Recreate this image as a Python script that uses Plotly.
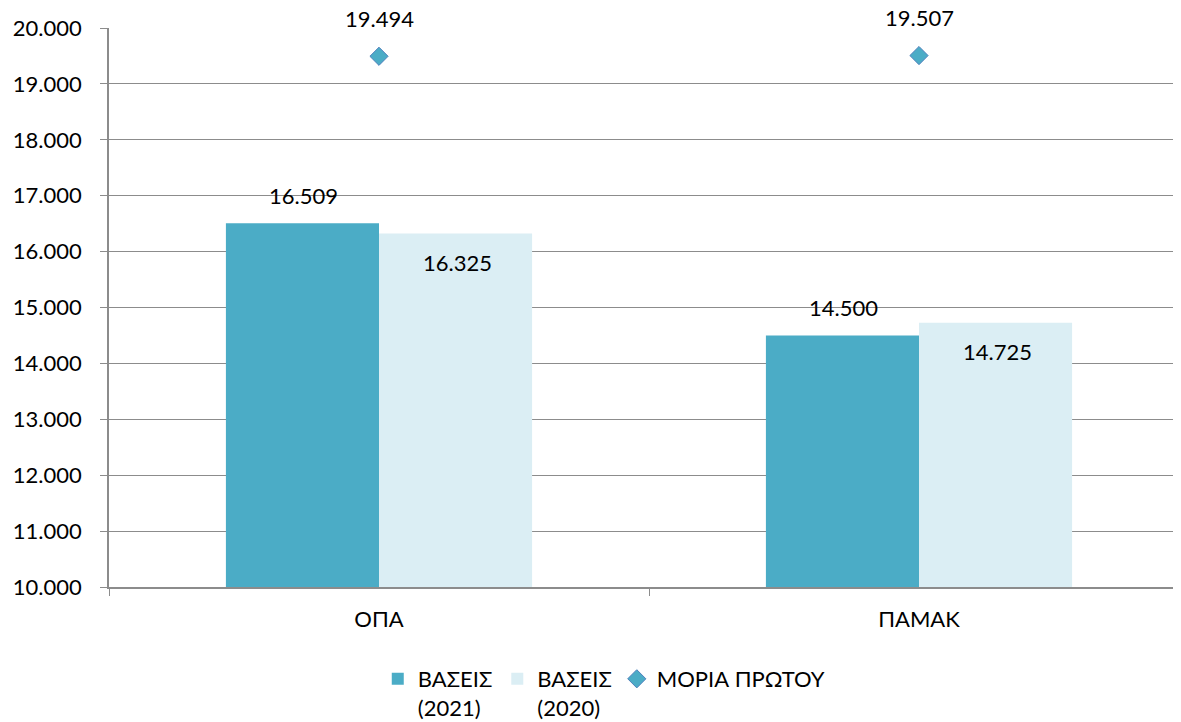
import plotly.graph_objects as go

categories = ["ΟΠΑ", "ΠΑΜΑΚ"]
bases_2021 = [16509, 14500]
bases_2020 = [16325, 14725]
moria_protou = [19494, 19507]

FONT = "Lato"
FS = 22
fig = go.Figure()
fig.add_trace(go.Bar(x=categories, y=bases_2021, name="ΒΑΣΕΙΣ<br>(2021)",
                     marker=dict(color="#4BACC6", line=dict(width=0))))
fig.add_trace(go.Bar(x=categories, y=bases_2020, name="ΒΑΣΕΙΣ<br>(2020)",
                     marker=dict(color="#DBEEF4", line=dict(width=0))))
fig.add_trace(go.Scatter(x=categories, y=moria_protou, name="ΜΟΡΙΑ ΠΡΩΤΟΥ", mode="markers",
                         marker=dict(symbol="diamond", size=14, color="#4BACC6",
                                     line=dict(color="#4F81BD", width=1))))

def fmt(v):
    return f"{v:,}".replace(",", ".")

annotations = []
for c, v in zip(categories, bases_2021):
    annotations.append(dict(x=c, y=v, xref="x", yref="y", text=fmt(v), showarrow=False,
                            xshift=-76, yshift=28, font=dict(size=FS, color="#000000", family=FONT)))
for c, v in zip(categories, bases_2020):
    annotations.append(dict(x=c, y=v, xref="x", yref="y", text=fmt(v), showarrow=False,
                            xshift=78, yshift=-29, font=dict(size=FS, color="#000000", family=FONT)))
for c, v in zip(categories, moria_protou):
    annotations.append(dict(x=c, y=v, xref="x", yref="y", text=fmt(v), showarrow=False,
                            yshift=38, font=dict(size=FS, color="#000000", family=FONT)))

fig.update_layout(
    width=1173, height=714,
    margin=dict(l=101, r=0, t=20, b=135, autoexpand=False),
    plot_bgcolor="white", paper_bgcolor="white",
    font=dict(family=FONT, size=FS, color="#000000"),
    separators=",.",
    barmode="group", bargap=0.433, bargroupgap=0,
    showlegend=True,
    legend=dict(orientation="h", x=0.462, xanchor="center", y=-0.127, yanchor="top",
                valign="top", font=dict(size=FS, family=FONT), traceorder="normal",
                itemwidth=30, tracegroupgap=0),
    annotations=annotations,
)
fig.update_yaxes(range=[10000, 20000], dtick=1000, tickformat=",.0f",
                 showgrid=True, gridcolor="#8C8C8C", gridwidth=1,
                 showline=True, linecolor="#8C8C8C", linewidth=1.5, automargin=False,
                 ticks="outside", ticklen=7, tickcolor="#8C8C8C", zeroline=False,
                 ticklabelstandoff=14, tickfont=dict(size=FS, family=FONT))
fig.update_xaxes(range=[-0.5, 1.5 - 8 / 540], showgrid=False, showline=True, linecolor="#8C8C8C",
                 linewidth=1.5, ticks="outside", tickson="boundaries", ticklen=7, automargin=False,
                 tickcolor="#8C8C8C", ticklabelstandoff=12, tickfont=dict(size=FS, family=FONT))

fig.write_html("out.html")
